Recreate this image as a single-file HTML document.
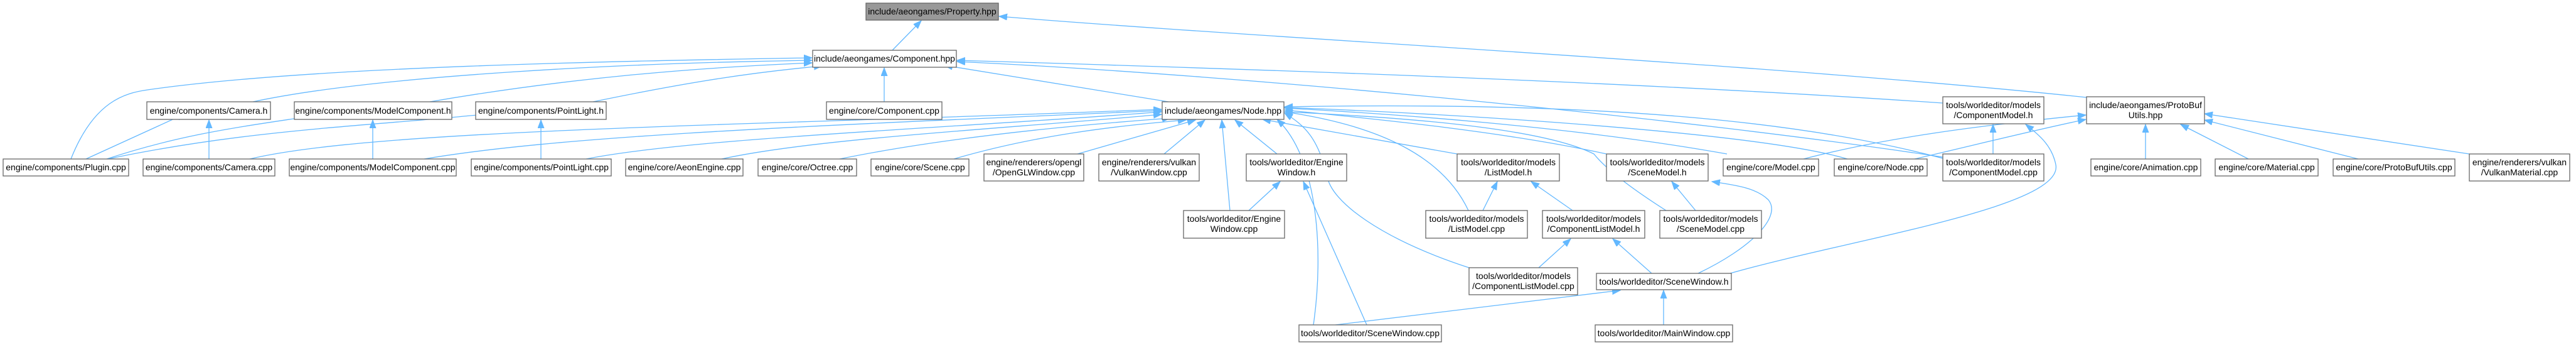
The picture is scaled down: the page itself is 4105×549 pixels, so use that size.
<!DOCTYPE html>
<html><head><meta charset="utf-8"><style>
html,body{margin:0;padding:0;background:#fff;}
svg{display:block;}
text{font-family:"Liberation Sans",Arial,sans-serif;font-size:14px;fill:#000;text-anchor:middle;}
.n{fill:#fff;stroke:#666;stroke-width:1.3;}
.e{fill:none;stroke:#63b8ff;stroke-width:1.3;marker-end:url(#a);}
</style></head><body>
<svg width="4105" height="549" viewBox="0 0 4105 549" xmlns="http://www.w3.org/2000/svg">
<defs><marker id="a" markerUnits="userSpaceOnUse" markerWidth="14" markerHeight="12" refX="13" refY="5" orient="auto"><path d="M0,0 L13,5 L0,10 z" fill="#63b8ff" stroke="#63b8ff"/></marker></defs>

<!-- edges -->
<path class="e" d="M1422,80 L1468,33"/>
<path class="e" d="M3325,155 C2800,100 2000,60 1592,26"/>
<path class="e" d="M113,253 C150,160 200,148 235,143 C500,105 1000,97 1294,92"/>
<path class="e" d="M403,162 C600,120 1000,100 1294,96"/>
<path class="e" d="M685,162 C900,125 1100,108 1294,100"/>
<path class="e" d="M945,162 C1100,130 1200,115 1310,105"/>
<path class="e" d="M1409,162 L1409,108"/>
<path class="e" d="M1862,162 L1505,104"/>
<path class="e" d="M3096,164 C2600,130 2000,110 1525,96"/>
<path class="e" d="M3096,250 C2700,190 2000,120 1525,98"/>
<path class="e" d="M137,253 L295,181"/>
<path class="e" d="M333,253 L333,191"/>
<path class="e" d="M170,253 C300,210 400,200 520,181"/>
<path class="e" d="M594,253 L594,191"/>
<path class="e" d="M172,253 C400,205 600,200 780,181"/>
<path class="e" d="M862,253 L862,191"/>
<!-- to Node.hpp -->
<path class="e" d="M398,253 C600,205 1200,200 1851,174"/>
<path class="e" d="M676,253 C900,215 1300,200 1851,176"/>
<path class="e" d="M934,253 C1100,220 1500,205 1851,178"/>
<path class="e" d="M1150,253 C1300,220 1600,205 1851,182"/>
<path class="e" d="M1338,253 C1500,220 1700,200 1865,188"/>
<path class="e" d="M1520,253 C1650,215 1780,200 1890,191"/>
<path class="e" d="M1717,245 L1905,191"/>
<path class="e" d="M1855,245 L1920,191"/>
<path class="e" d="M2035,245 L1968,191"/>
<path class="e" d="M1960,335 L1947,191"/>
<path class="e" d="M2093,517 C2110,400 2100,250 2035,190"/>
<path class="e" d="M2322,245 L2012,190"/>
<path class="e" d="M2340,335 C2300,250 2200,200 2047,178"/>
<path class="e" d="M2341,426 C2200,380 2120,320 2115,280 C2100,220 2080,200 2047,180"/>
<path class="e" d="M2560,245 C2400,210 2200,190 2047,175"/>
<path class="e" d="M2655,335 C2600,300 2560,270 2540,245 C2450,200 2200,185 2047,178"/>
<path class="e" d="M2752,245 C2500,200 2200,180 2047,172"/>
<path class="e" d="M2944,253 C2800,210 2300,180 2047,171"/>
<path class="e" d="M3096,252 C2900,200 2600,160 2047,170"/>
<!-- lower tools -->
<path class="e" d="M1990,335 L2040,289"/>
<path class="e" d="M2178,517 L2077,289"/>
<path class="e" d="M2363,335 L2386,289"/>
<path class="e" d="M2506,335 L2440,289"/>
<path class="e" d="M2702,335 L2664,289"/>
<path class="e" d="M2452,426 L2503,380"/>
<path class="e" d="M2632,435 L2570,380"/>
<path class="e" d="M2706,435 C2790,395 2840,345 2818,318 C2800,300 2770,295 2728,289"/>
<path class="e" d="M2757,435 C2950,380 3290,330 3276,262 C3270,232 3250,215 3228,198"/>
<path class="e" d="M2128,517 L2582,462"/>
<path class="e" d="M2651,517 L2651,462"/>
<path class="e" d="M3176,245 L3176,198"/>
<!-- ProtoBufUtils -->
<path class="e" d="M2874,253 C3000,220 3150,200 3324,183"/>
<path class="e" d="M3051,253 C3150,230 3250,205 3324,190"/>
<path class="e" d="M3419,253 L3419,198"/>
<path class="e" d="M3583,253 L3475,198"/>
<path class="e" d="M3758,253 L3513,191"/>
<path class="e" d="M3935,245 L3513,181"/>

<!-- nodes -->
<rect x="1380" y="5" width="211" height="27" fill="#999" stroke="#666" stroke-width="1.3"/><text x="1485.5" y="23">include/aeongames/Property.hpp</text>
<rect class="n" x="1295" y="80" width="229" height="27"/><text x="1409.5" y="98">include/aeongames/Component.hpp</text>
<rect class="n" x="234" y="162" width="197" height="28"/><text x="332.5" y="181">engine/components/Camera.h</text>
<rect class="n" x="469" y="162" width="251" height="28"/><text x="594.5" y="181">engine/components/ModelComponent.h</text>
<rect class="n" x="758" y="162" width="208" height="28"/><text x="862" y="181">engine/components/PointLight.h</text>
<rect class="n" x="1317" y="162" width="184" height="28"/><text x="1409" y="181">engine/core/Component.cpp</text>
<rect class="n" x="1852" y="162" width="194" height="28"/><text x="1949" y="181">include/aeongames/Node.hpp</text>
<rect class="n" x="3096" y="154" width="161" height="43"/><text x="3176.5" y="172">tools/worldeditor/models</text><text x="3176.5" y="188">/ComponentModel.h</text>
<rect class="n" x="3325" y="154" width="188" height="43"/><text x="3419" y="172">include/aeongames/ProtoBuf</text><text x="3419" y="188">Utils.hpp</text>
<rect class="n" x="5" y="253" width="200" height="27"/><text x="105" y="271">engine/components/Plugin.cpp</text>
<rect class="n" x="228" y="253" width="210" height="27"/><text x="333" y="271">engine/components/Camera.cpp</text>
<rect class="n" x="461" y="253" width="266" height="27"/><text x="594" y="271">engine/components/ModelComponent.cpp</text>
<rect class="n" x="751" y="253" width="223" height="27"/><text x="862.5" y="271">engine/components/PointLight.cpp</text>
<rect class="n" x="997" y="253" width="187" height="27"/><text x="1090.5" y="271">engine/core/AeonEngine.cpp</text>
<rect class="n" x="1208" y="253" width="157" height="27"/><text x="1286.5" y="271">engine/core/Octree.cpp</text>
<rect class="n" x="1388" y="253" width="156" height="27"/><text x="1466" y="271">engine/core/Scene.cpp</text>
<rect class="n" x="1568" y="245" width="159" height="43"/><text x="1647.5" y="263">engine/renderers/opengl</text><text x="1647.5" y="279">/OpenGLWindow.cpp</text>
<rect class="n" x="1751" y="245" width="160" height="43"/><text x="1831" y="263">engine/renderers/vulkan</text><text x="1831" y="279">/VulkanWindow.cpp</text>
<rect class="n" x="1986" y="245" width="160" height="43"/><text x="2066" y="263">tools/worldeditor/Engine</text><text x="2066" y="279">Window.h</text>
<rect class="n" x="2322" y="245" width="163" height="43"/><text x="2403.5" y="263">tools/worldeditor/models</text><text x="2403.5" y="279">/ListModel.h</text>
<rect class="n" x="2560" y="245" width="162" height="43"/><text x="2641" y="263">tools/worldeditor/models</text><text x="2641" y="279">/SceneModel.h</text>
<rect class="n" x="2746" y="253" width="152" height="27"/><text x="2822" y="271">engine/core/Model.cpp</text>
<rect class="n" x="2923" y="253" width="148" height="27"/><text x="2997" y="271">engine/core/Node.cpp</text>
<rect class="n" x="3096" y="245" width="161" height="43"/><text x="3176.5" y="263">tools/worldeditor/models</text><text x="3176.5" y="279">/ComponentModel.cpp</text>
<rect class="n" x="3332" y="253" width="175" height="27"/><text x="3419.5" y="271">engine/core/Animation.cpp</text>
<rect class="n" x="3530" y="253" width="164" height="27"/><text x="3612" y="271">engine/core/Material.cpp</text>
<rect class="n" x="3718" y="253" width="194" height="27"/><text x="3815" y="271">engine/core/ProtoBufUtils.cpp</text>
<rect class="n" x="3935" y="245" width="160" height="43"/><text x="4015" y="263">engine/renderers/vulkan</text><text x="4015" y="279">/VulkanMaterial.cpp</text>
<rect class="n" x="1886" y="335" width="161" height="44"/><text x="1966.5" y="353">tools/worldeditor/Engine</text><text x="1966.5" y="369">Window.cpp</text>
<rect class="n" x="2272" y="335" width="162" height="44"/><text x="2353" y="353">tools/worldeditor/models</text><text x="2353" y="369">/ListModel.cpp</text>
<rect class="n" x="2458" y="335" width="163" height="44"/><text x="2539.5" y="353">tools/worldeditor/models</text><text x="2539.5" y="369">/ComponentListModel.h</text>
<rect class="n" x="2645" y="335" width="162" height="44"/><text x="2726" y="353">tools/worldeditor/models</text><text x="2726" y="369">/SceneModel.cpp</text>
<rect class="n" x="2341" y="426" width="173" height="43"/><text x="2427.5" y="444">tools/worldeditor/models</text><text x="2427.5" y="460">/ComponentListModel.cpp</text>
<rect class="n" x="2544" y="435" width="215" height="26"/><text x="2651.5" y="453">tools/worldeditor/SceneWindow.h</text>
<rect class="n" x="2070" y="517" width="227" height="27"/><text x="2183.5" y="535">tools/worldeditor/SceneWindow.cpp</text>
<rect class="n" x="2542" y="517" width="219" height="27"/><text x="2651.5" y="535">tools/worldeditor/MainWindow.cpp</text>
</svg>
</body></html>
